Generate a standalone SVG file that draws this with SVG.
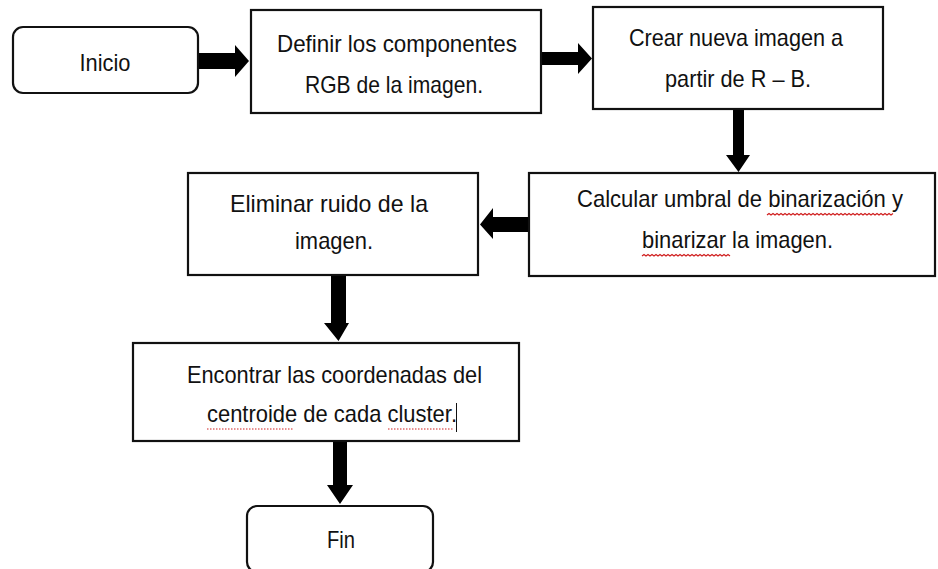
<svg xmlns="http://www.w3.org/2000/svg" width="938" height="569" viewBox="0 0 938 569">
<style>
.box{fill:#fff;stroke:#111;stroke-width:2.2}
.t{font-family:"Liberation Sans",Arial,sans-serif;font-size:24px;fill:#111}
.arr{fill:#000}
.wavy{fill:none;stroke:#d02020;stroke-width:1.2}
.dot{fill:none;stroke:#d02020;stroke-width:1;stroke-dasharray:1.5 1.5}
</style>
<rect width="938" height="569" fill="#fff"/>
<g id="connectors">
<polygon class="arr" points="197,53 235,53 235,45 249,61 235,77 235,69 197,69"/>
<polygon class="arr" points="542,52 578,52 578,43 592,58.5 578,74 578,65 542,65"/>
<polygon class="arr" points="733,110 744,110 744,155 750,155 738.5,172 726,155 733,155"/>
<polygon class="arr" points="528,217 493,217 493,208 480,224.5 493,239 493,232 528,232"/>
<polygon class="arr" points="331,276 346,276 346,323 349,323 338.5,341 324,323 331,323"/>
<polygon class="arr" points="333,442 347,442 347,485 353,485 340,504 327,485 333,485"/>
</g>
<g id="inicio">
<rect class="box" x="13" y="27" width="185" height="66" rx="10"/>
<text class="t" x="105" y="71" text-anchor="middle" textLength="51" lengthAdjust="spacingAndGlyphs">Inicio</text>
</g>
<g id="definir">
<rect class="box" x="251" y="10" width="290" height="103"/>
<text class="t" x="277" y="52" textLength="240" lengthAdjust="spacingAndGlyphs">Definir los componentes</text>
<text class="t" x="305" y="93" textLength="178" lengthAdjust="spacingAndGlyphs">RGB de la imagen.</text>
</g>
<g id="crear">
<rect class="box" x="593" y="7" width="290" height="102"/>
<text class="t" x="629" y="46" textLength="214" lengthAdjust="spacingAndGlyphs">Crear nueva imagen a</text>
<text class="t" x="665" y="87" textLength="146" lengthAdjust="spacingAndGlyphs">partir de R – B.</text>
</g>
<g id="calcular">
<rect class="box" x="529" y="173" width="406" height="103"/>
<text class="t" x="577" y="207" textLength="326" lengthAdjust="spacingAndGlyphs">Calcular umbral de binarización y</text>
<text class="t" x="642" y="248" textLength="191" lengthAdjust="spacingAndGlyphs">binarizar la imagen.</text>
<path class="wavy" d="M767,215 l2,-1.5 l2,1.5 l2,-1.5 l2,1.5 l2,-1.5 l2,1.5 l2,-1.5 l2,1.5 l2,-1.5 l2,1.5 l2,-1.5 l2,1.5 l2,-1.5 l2,1.5 l2,-1.5 l2,1.5 l2,-1.5 l2,1.5 l2,-1.5 l2,1.5 l2,-1.5 l2,1.5 l2,-1.5 l2,1.5 l2,-1.5 l2,1.5 l2,-1.5 l2,1.5 l2,-1.5 l2,1.5 l2,-1.5 l2,1.5 l2,-1.5 l2,1.5 l2,-1.5 l2,1.5 l2,-1.5 l2,1.5 l2,-1.5 l2,1.5 l2,-1.5 l2,1.5 l2,-1.5 l2,1.5 l2,-1.5 l2,1.5 l2,-1.5 l2,1.5 l2,-1.5 l2,1.5 l2,-1.5 l2,1.5 l2,-1.5 l2,1.5 l2,-1.5 l2,1.5 l2,-1.5 l2,1.5 l2,-1.5 l2,1.5 l2,-1.5 l2,1.5 l2,-1.5"/>
<path class="wavy" d="M642,256 l2,-1.5 l2,1.5 l2,-1.5 l2,1.5 l2,-1.5 l2,1.5 l2,-1.5 l2,1.5 l2,-1.5 l2,1.5 l2,-1.5 l2,1.5 l2,-1.5 l2,1.5 l2,-1.5 l2,1.5 l2,-1.5 l2,1.5 l2,-1.5 l2,1.5 l2,-1.5 l2,1.5 l2,-1.5 l2,1.5 l2,-1.5 l2,1.5 l2,-1.5 l2,1.5 l2,-1.5 l2,1.5 l2,-1.5 l2,1.5 l2,-1.5 l2,1.5 l2,-1.5 l2,1.5 l2,-1.5 l2,1.5 l2,-1.5 l2,1.5 l2,-1.5 l2,1.5 l2,-1.5 l2,1.5"/>
</g>
<g id="eliminar">
<rect class="box" x="188" y="173" width="290" height="102"/>
<text class="t" x="230" y="212" textLength="198" lengthAdjust="spacingAndGlyphs">Eliminar ruido de la</text>
<text class="t" x="295" y="249" textLength="78" lengthAdjust="spacingAndGlyphs">imagen.</text>
</g>
<g id="encontrar">
<rect class="box" x="133" y="343" width="386" height="98"/>
<text class="t" x="187" y="383" textLength="295" lengthAdjust="spacingAndGlyphs">Encontrar las coordenadas del</text>
<text class="t" x="207" y="422" textLength="250" lengthAdjust="spacingAndGlyphs">centroide de cada cluster.</text>
<line class="dot" x1="207" y1="429" x2="293" y2="429"/>
<line class="dot" x1="388" y1="429" x2="454" y2="429"/>
<line x1="456.5" y1="403" x2="456.5" y2="432" stroke="#111" stroke-width="1"/>
</g>
<g id="fin">
<rect class="box" x="247" y="506" width="186" height="66" rx="10"/>
<text class="t" x="341" y="548" text-anchor="middle" textLength="28" lengthAdjust="spacingAndGlyphs">Fin</text>
</g>
</svg>
